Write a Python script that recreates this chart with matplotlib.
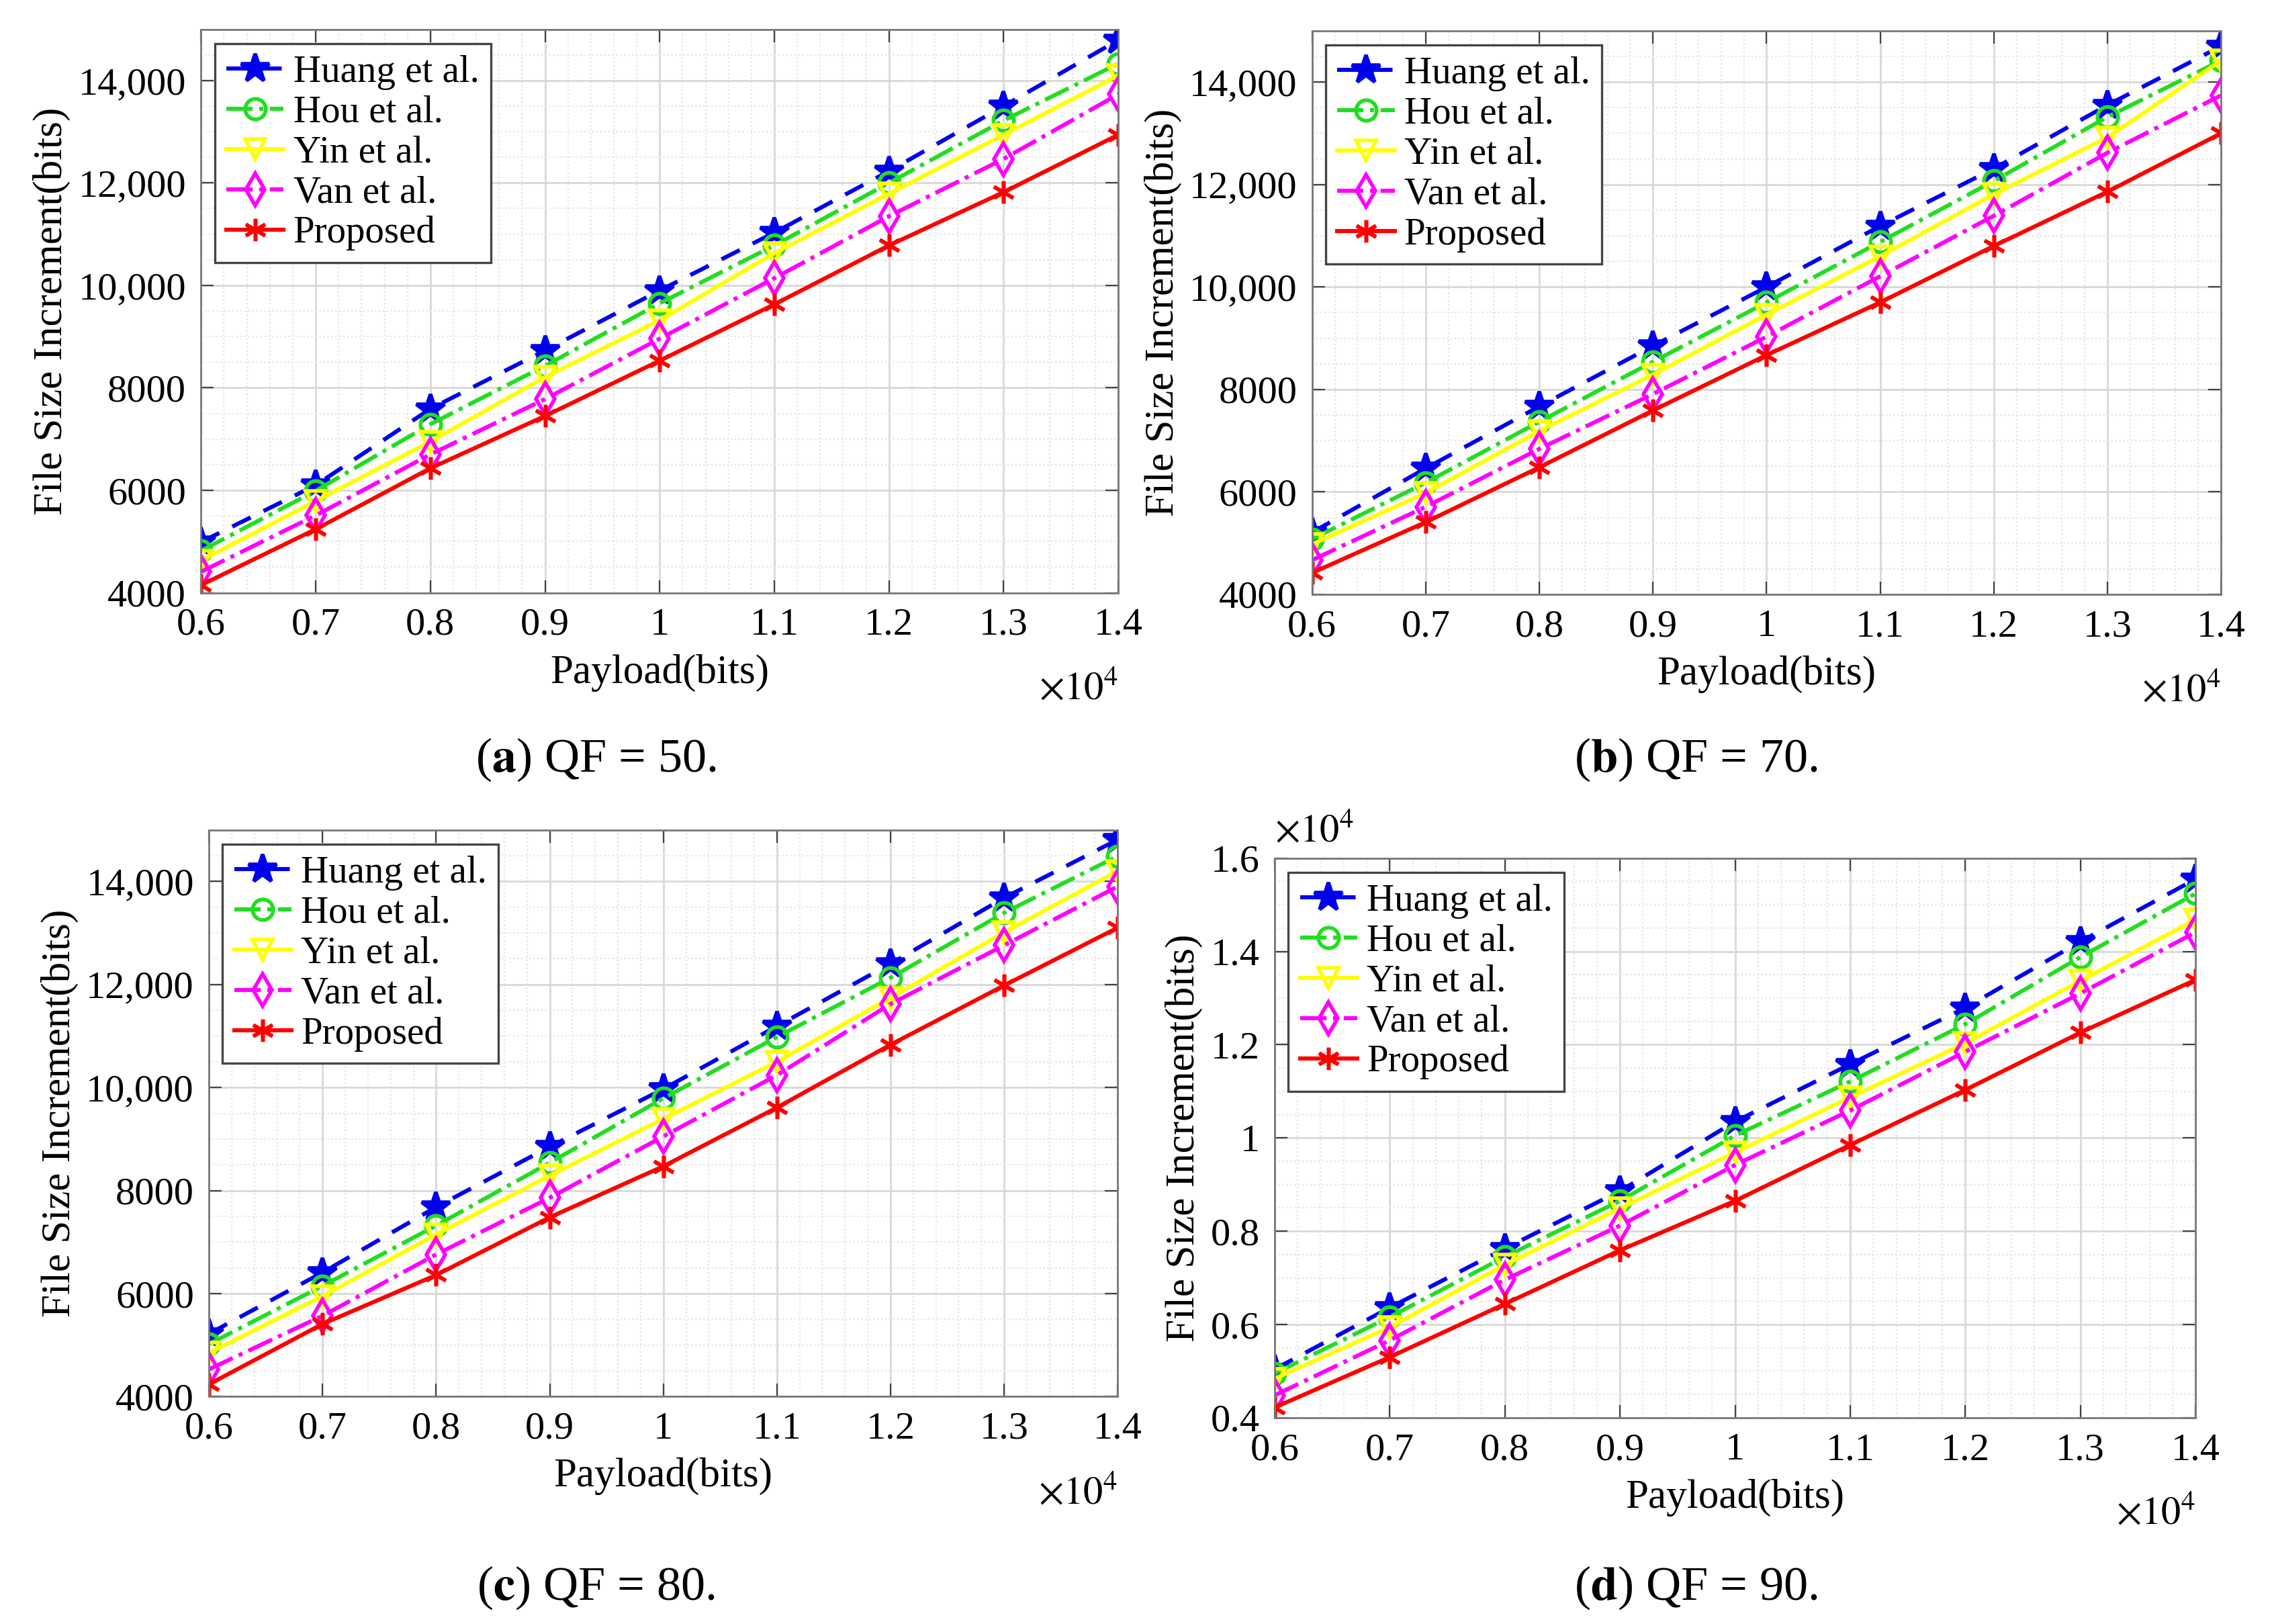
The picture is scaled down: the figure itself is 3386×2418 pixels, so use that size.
import numpy as np
import matplotlib
matplotlib.use('Agg')
import matplotlib.pyplot as plt
from matplotlib.ticker import FixedLocator, AutoMinorLocator

plt.rcParams['font.family'] = ['Liberation Serif', 'DejaVu Serif']
plt.rcParams['mathtext.fontset'] = 'stix'

# payload (bits)
payload = [6000, 7000, 8000, 9000, 10000, 11000, 12000, 13000, 14000]
methods = ['Huang et al.', 'Hou et al.', 'Yin et al.', 'Van et al.', 'Proposed']

# file size increment (bits)
qf50_huang = [4990, 6100, 7590, 8730, 9900, 11030, 12230, 13500, 14790]
qf50_hou = [4820, 5990, 7290, 8430, 9650, 10780, 12000, 13220, 14330]
qf50_yin = [4630, 5790, 6950, 8210, 9320, 10630, 11790, 12940, 14100]
qf50_van = [4410, 5510, 6700, 7780, 8960, 10140, 11350, 12470, 13730]
qf50_prop = [4150, 5240, 6430, 7450, 8530, 9630, 10780, 11820, 12940]

qf70_huang = [5210, 6460, 7670, 8850, 10000, 11190, 12310, 13550, 14700]
qf70_hou = [5080, 6180, 7370, 8540, 9700, 10880, 12070, 13320, 14420]
qf70_yin = [4980, 5980, 7190, 8290, 9460, 10600, 11810, 12920, 14420]
qf70_van = [4670, 5710, 6840, 7910, 9030, 10210, 11390, 12620, 13740]
qf70_prop = [4420, 5410, 6480, 7590, 8670, 9700, 10800, 11860, 13000]

qf80_huang = [5220, 6410, 7680, 8850, 9970, 11190, 12400, 13680, 14810]
qf80_hou = [5020, 6150, 7320, 8540, 9790, 10980, 12130, 13390, 14490]
qf80_yin = [4850, 5950, 7150, 8290, 9390, 10500, 11740, 13010, 14200]
qf80_van = [4530, 5570, 6760, 7860, 9050, 10240, 11620, 12760, 13900]
qf80_prop = [4240, 5410, 6360, 7480, 8470, 9610, 10830, 11980, 13100]

qf90_huang = [5040, 6360, 7630, 8860, 10350, 11580, 12790, 14210, 15550]
qf90_hou = [4950, 6160, 7450, 8650, 10050, 11210, 12440, 13880, 15240]
qf90_yin = [4840, 5940, 7280, 8490, 9690, 10870, 12030, 13370, 14680]
qf90_van = [4480, 5660, 6960, 8120, 9420, 10590, 11850, 13100, 14410]
qf90_prop = [4220, 5300, 6440, 7590, 8650, 9850, 11030, 12260, 13390]

panels = [
    ([qf50_huang, qf50_hou, qf50_yin, qf50_van, qf50_prop], 'a', '50'),
    ([qf70_huang, qf70_hou, qf70_yin, qf70_van, qf70_prop], 'b', '70'),
    ([qf80_huang, qf80_hou, qf80_yin, qf80_van, qf80_prop], 'c', '80'),
    ([qf90_huang, qf90_hou, qf90_yin, qf90_van, qf90_prop], 'd', '90'),
]

colors = ['#0000ee', '#22dd22', '#ffff00', '#ff00ff', '#ff0000']
styles = [(0, (5, 3.5)), '-.', '-', '-.', '-']
markers = ['*', 'o', 'v', 'd', (6, 2, 0)]
msizes = [16, 11, 11, 12, 12]
fills = ['full', 'none', 'none', 'none', 'full']

# axes boxes [left, bottom, width, height]
boxes = [
    [0.0884, 0.635, 0.4034, 0.347],
    [0.577, 0.634, 0.3997, 0.347],
    [0.0919, 0.140, 0.3996, 0.349],
    [0.5605, 0.127, 0.405, 0.3446],
]
captions = [(0.262, 0.532), (0.746, 0.532), (0.262, 0.0224), (0.746, 0.0224)]

fig = plt.figure(figsize=(16.93, 12.09), dpi=200)

x = np.array(payload) / 1e4
for i, (series, letter, qf) in enumerate(panels):
    ax = fig.add_axes(boxes[i])
    scale = 1e4 if letter == 'd' else 1.0
    for j, ys in enumerate(series):
        ax.plot(x, np.array(ys) / scale, linestyle=styles[j], color=colors[j],
                lw=2.2, marker=markers[j], markersize=msizes[j],
                fillstyle=fills[j], markeredgewidth=2.0, label=methods[j])
    ax.set_xlim(0.6, 1.4)
    ax.xaxis.set_major_locator(FixedLocator(x))
    ax.set_xticklabels(['0.6', '0.7', '0.8', '0.9', '1', '1.1', '1.2', '1.3', '1.4'])
    if letter == 'd':
        ax.set_ylim(0.4, 1.6)
        yt = [0.4, 0.6, 0.8, 1.0, 1.2, 1.4, 1.6]
        ax.set_yticks(yt)
        ax.set_yticklabels(['0.4', '0.6', '0.8', '1', '1.2', '1.4', '1.6'])
        ax.text(0.0, 1.015, r'$\times10^{4}$', transform=ax.transAxes,
                fontsize=21, ha='left', va='bottom')
    else:
        ax.set_ylim(4000, 15000)
        yt = [4000, 6000, 8000, 10000, 12000, 14000]
        ax.set_yticks(yt)
        ax.set_yticklabels(['4000', '6000', '8000', '10,000', '12,000', '14,000'])
    ax.xaxis.set_minor_locator(AutoMinorLocator(5))
    ax.yaxis.set_minor_locator(AutoMinorLocator(4))
    ax.grid(True, which='major', color='#d8d8d8', lw=1.0)
    ax.grid(True, which='minor', color='#e4e4e4', lw=0.8, linestyle=':')
    ax.set_axisbelow(True)
    ax.tick_params(which='both', direction='in', top=True, right=True,
                   labelsize=21, color='#444444', pad=8)
    ax.tick_params(which='major', length=7)
    ax.tick_params(which='minor', length=0)
    for sp in ax.spines.values():
        sp.set_color('#777777')
        sp.set_linewidth(1.0)
    ax.set_xlabel('Payload(bits)', fontsize=22, labelpad=6)
    ax.set_ylabel('File Size Increment(bits)', fontsize=22, labelpad=4)
    ax.text(1.0, -0.14, r'$\times10^{4}$', transform=ax.transAxes,
            fontsize=21, ha='right', va='top')
    leg = ax.legend(loc='upper left', bbox_to_anchor=(0.015, 0.975), fontsize=20.5,
                    handlelength=1.5, handletextpad=0.25, labelspacing=0.14,
                    borderpad=0.3, borderaxespad=0.0, fancybox=False,
                    framealpha=1.0, edgecolor='#444444')
    leg.get_frame().set_linewidth(1.2)
    fig.text(captions[i][0], captions[i][1],
             r'(' + r'$\mathbf{' + letter + r'}$' + ') QF = ' + qf + '.',
             fontsize=26, ha='center', va='center')

fig.savefig('out.png', dpi=200)
